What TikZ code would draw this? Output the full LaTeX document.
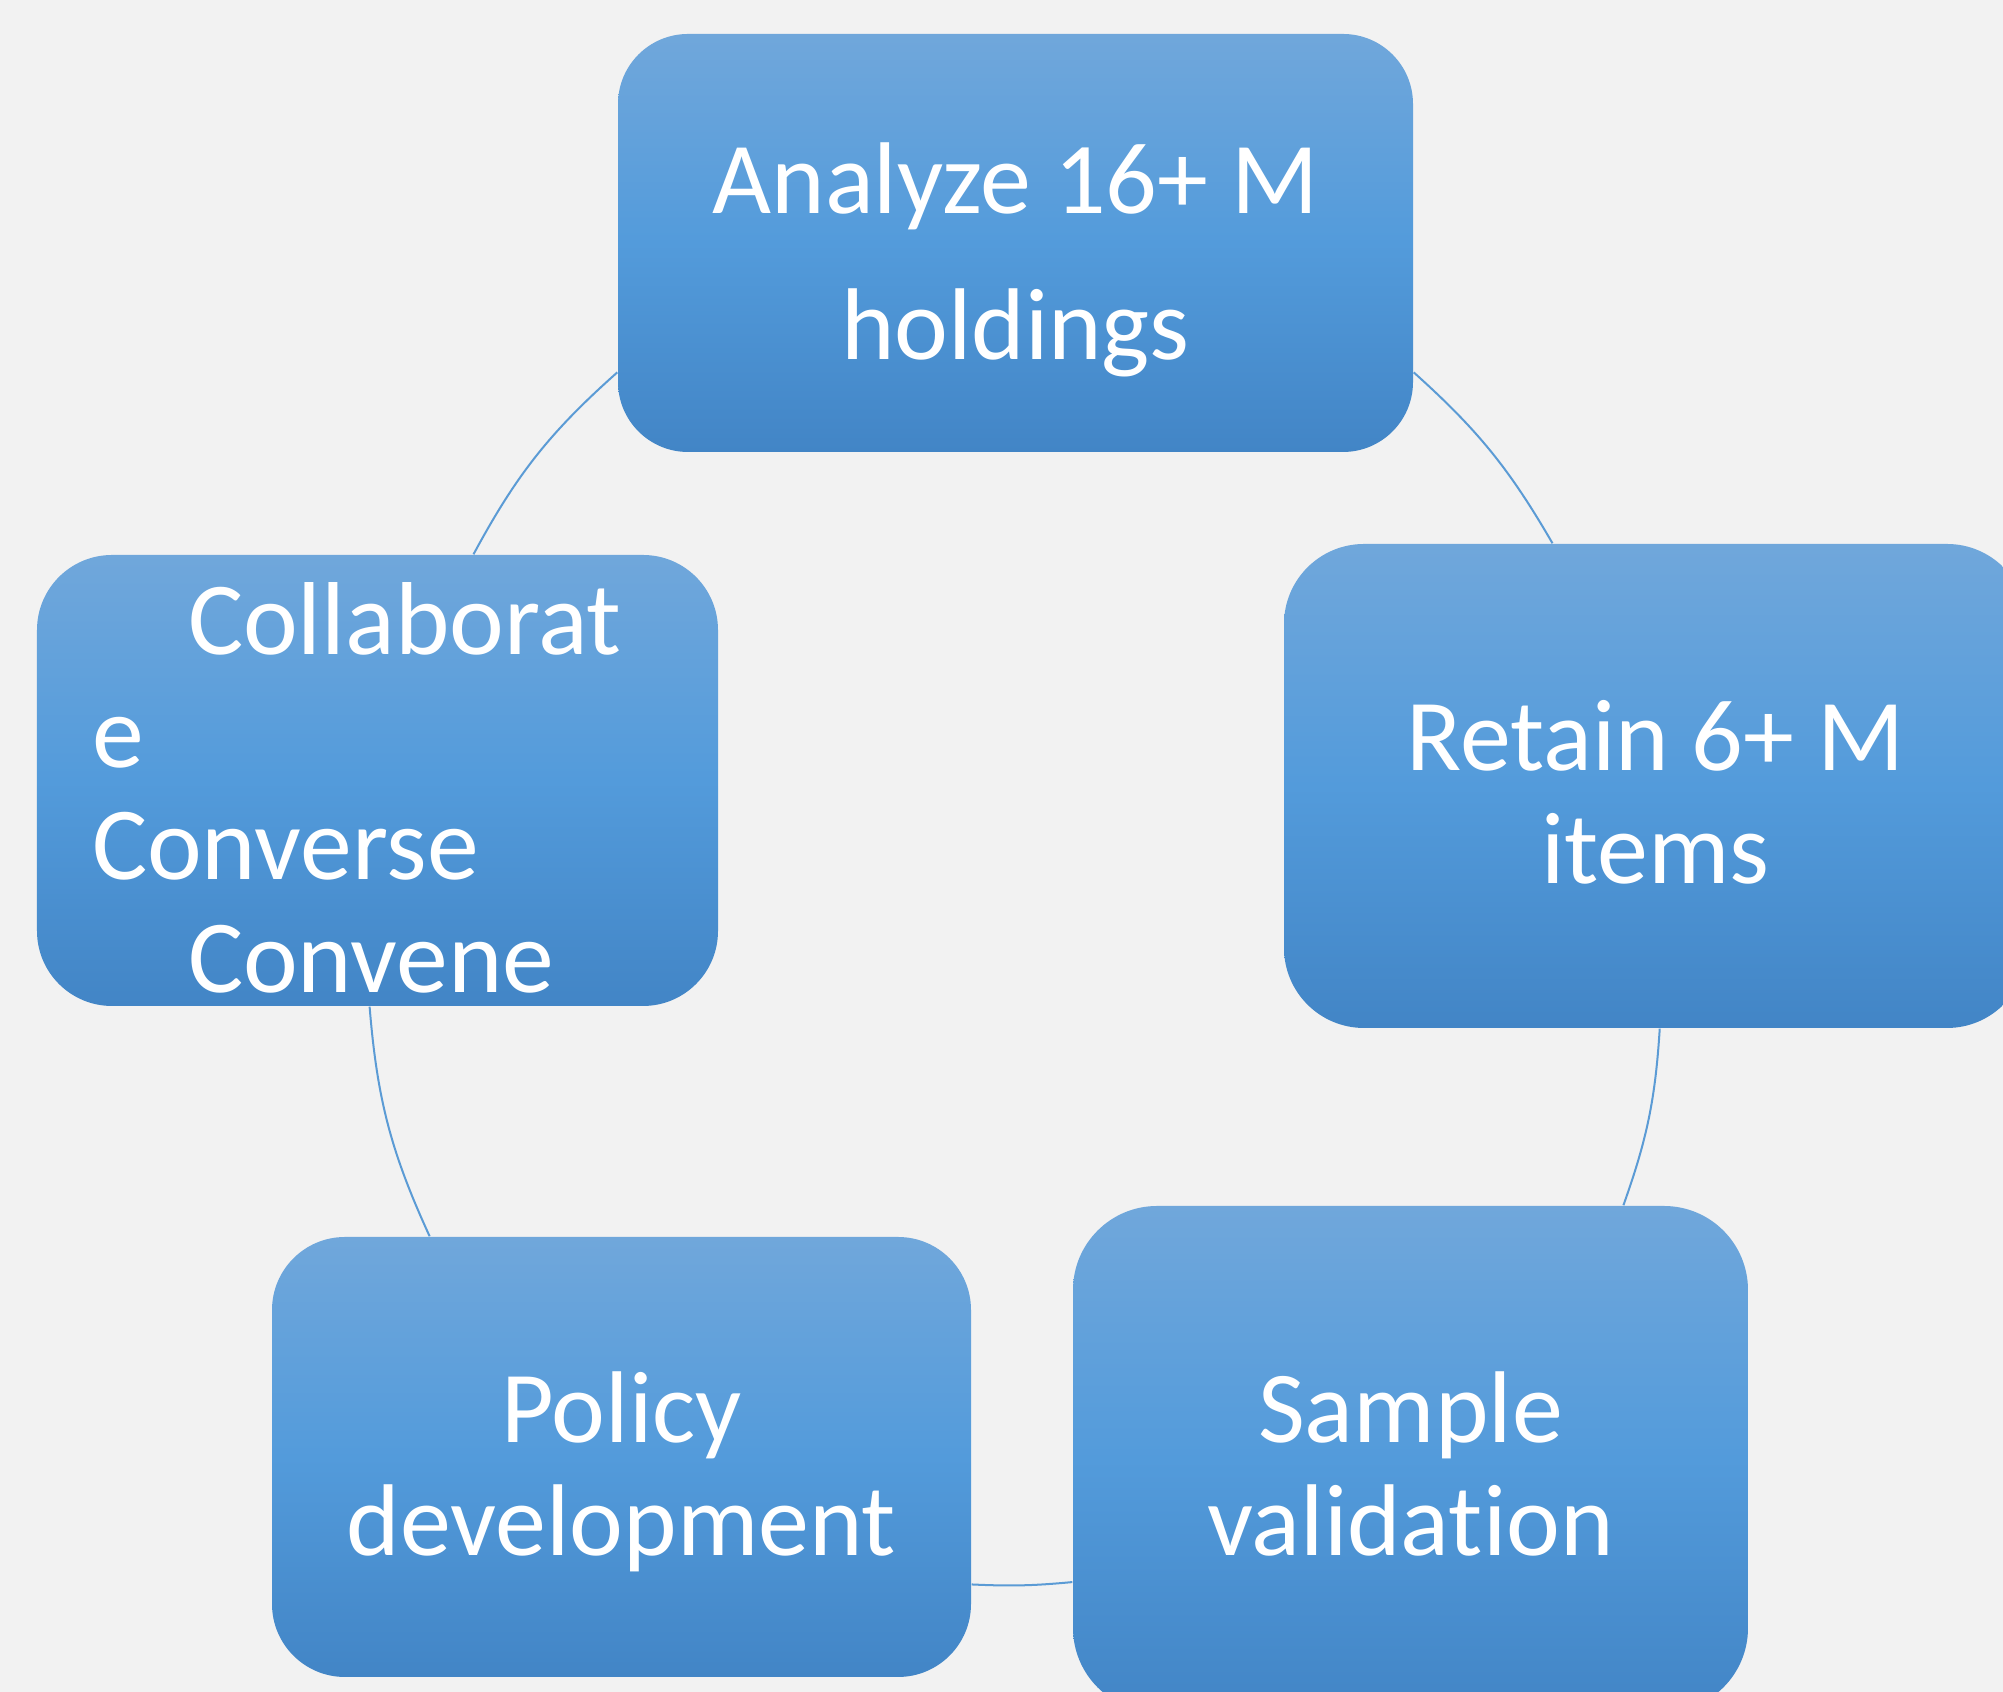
\documentclass[tikz,border=0pt]{standalone}
\usepackage{fontspec}
\setmainfont{Carlito}[Ligatures=NoCommon]
\usepackage{tikz}
\definecolor{boxtop}{HTML}{70A7DB}
\definecolor{boxmid}{HTML}{539BDB}
\definecolor{boxbot}{HTML}{4285C6}
\definecolor{flowblue}{HTML}{5B9BD5}
\definecolor{paper}{HTML}{F2F2F2}

\begin{document}
\begin{tikzpicture}
  [
  stage/.style={rectangle,top color=boxtop,bottom color=boxbot,middle color=boxmid,
    inner sep=0pt,text=white,align=center,text height=3cm,
    font=\fontsize{29}{32.3}\selectfont},
  flow/.style={draw=flowblue,line width=0.02cm}
  ]
  \clip (0,0) rectangle (20.03,16.92);
  \fill[paper] (0,0) rectangle (20.03,16.92);
  \node[stage,minimum width=7.95cm,minimum height=4.18cm,rounded corners=0.7cm,
    text depth=0.66cm,font=\fontsize{29}{41.8}\selectfont]
    (analyze) at (10.155,14.49) {Analyze 16+ M\\holdings};
  \node[stage,minimum width=7.43cm,minimum height=4.84cm,rounded corners=0.8cm,
    text depth=1.04cm] (retain) at (16.555,9.06) {Retain 6+ M\\items};
  \node[stage,minimum width=6.75cm,minimum height=5.06cm,rounded corners=0.84cm,
    text depth=1.06cm] (sample) at (14.105,2.33) {Sample\\validation};
  \node[stage,minimum width=6.99cm,minimum height=4.4cm,rounded corners=0.73cm,
    text depth=1.02cm] (policy) at (6.215,2.35) {Policy\\development};
  \node[stage,minimum width=6.81cm,minimum height=4.47cm,rounded corners=0.75cm,
    align=left,text width=5.71cm,text height=1cm,text depth=3.51cm,
    font=\fontsize{29.5}{32}\selectfont]
    (collaborate) at (3.775,9.115)
    {\hspace*{0.96cm}Collaborat\\e\\Converse\\\hspace*{0.96cm}Convene};
  % the cycle
  \draw[flow] (analyze.-18.5) to[bend left=9] (retain.113.7);
  \draw[flow] (retain.-89.9) to[bend left=8] (sample.50.6);
  \draw[flow] (sample.200) to[bend left=4] (policy.-20);
  \draw[flow] (policy.131.5) to[bend left=10] (collaborate.268.1);
  \draw[flow] (collaborate.67.3) to[bend left=10] (analyze.198.3);
\end{tikzpicture}
\end{document}
